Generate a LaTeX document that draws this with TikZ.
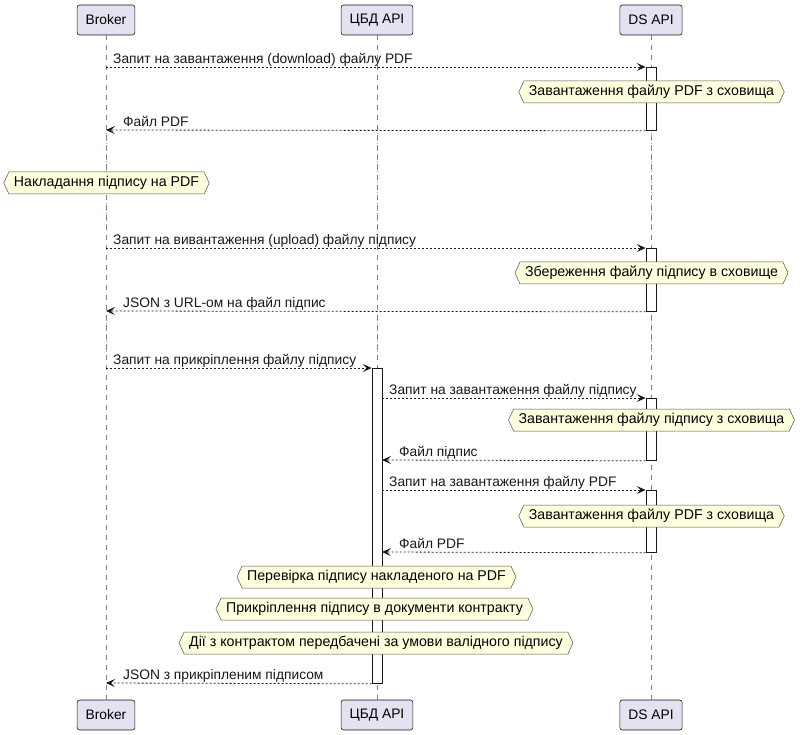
\documentclass[tikz,border=0pt]{standalone}
\usepackage{fontspec}
\setmainfont{Liberation Sans}
\usetikzlibrary{arrows.meta,shapes.symbols}
\definecolor{partfill}{HTML}{E2E2F0}
\definecolor{notefill}{HTML}{FEFFDD}
\definecolor{ink}{HTML}{181818}
\definecolor{delaycol}{HTML}{C98A9A}
\begin{document}
\begin{tikzpicture}[x=1pt,y=-1pt,font=\fontsize{13.8}{16}\selectfont,
  part/.style={draw=ink,fill=partfill,rounded corners=2.5pt,minimum height=30pt,inner xsep=8.5pt,line width=0.6pt},
  act/.style={draw=ink,fill=white,line width=0.8pt,minimum width=10pt,inner sep=0pt,anchor=north},
  note/.style={signal,signal to=west and east,signal pointer angle=130,draw=ink!75,fill=notefill,minimum height=22pt,inner xsep=5pt,inner ysep=0pt,line width=0.5pt,font=\fontsize{14.2}{16}\selectfont},
  msg/.style={ink,line width=0.8pt,dash pattern=on 2pt off 2pt,-{Stealth[length=9pt,width=8pt,inset=4pt]}},
  lbl/.style={anchor=base west,inner sep=0pt,text=ink},
  life/.style={ink!55,line width=0.6pt,dash pattern=on 5pt off 5pt},
  delayline/.style={delaycol,line width=0.7pt,dash pattern=on 1pt off 2.5pt}]
\useasboundingbox (0,0) rectangle (803,735);
% participants
\node[part] (b1) at (106,20) {Broker};
\node[part] (c1) at (377,20) {ЦБД API};
\node[part] (d1) at (651,20) {DS API};
\node[part] (b2) at (106,715) {Broker};
\node[part] (c2) at (377,715) {ЦБД API};
\node[part] (d2) at (651,715) {DS API};
% delay segments
\foreach \x/\n in {106/b,377/c,651/d}{
  \coordinate (\n da) at (\x,133); \coordinate (\n db) at (\x,228);
  \coordinate (\n dc) at (\x,316); \coordinate (\n dd) at (\x,352);
  \draw[delayline] (\n da) -- (\n db);
  \draw[delayline] (\n dc) -- (\n dd);
}
% lifelines
\draw[life] (b1.south) -- (b2.north);
\draw[life] (c1.south) -- (c2.north);
\draw[life] (d1.south) -- (d2.north);
% activations
\node[act,minimum height=63pt] (a1) at (651,67) {};
\node[act,minimum height=63pt] (a2) at (651,248) {};
\node[act,minimum height=315pt] (a3) at (377,368) {};
\node[act,minimum height=62pt] (a4) at (651,398) {};
\node[act,minimum height=62pt] (a5) at (651,490) {};
% coordinates on lifelines
\coordinate (p1) at (106,67);
\coordinate (p2) at (106,130);
\coordinate (p3) at (106,248);
\coordinate (p4) at (106,311);
\coordinate (p5) at (106,368);
\coordinate (p6) at (382,398);
\coordinate (p7) at (382,460);
\coordinate (p8) at (382,490);
\coordinate (p9) at (382,552);
\coordinate (p10) at (106,683);
% messages
\draw[msg] (p1) -- (a1.north west);
\node[lbl] (l1) at (113,63.5) {Запит на завантаження (download) файлу PDF};
\draw[msg] (a1.south west) -- (p2);
\node[lbl] (l2) at (123,126.5) {Файл PDF};
\draw[msg] (p3) -- (a2.north west);
\node[lbl] (l3) at (113,244.5) {Запит на вивантаження (upload) файлу підпису};
\draw[msg] (a2.south west) -- (p4);
\node[lbl] (l4) at (123,307.5) {JSON з URL-ом на файл підпис};
\draw[msg] (p5) -- (a3.north west);
\node[lbl] (l5) at (113,364.5) {Запит на прикріплення файлу підпису};
\draw[msg] (p6) -- (a4.north west);
\node[lbl] (l6) at (389,394.5) {Запит на завантаження файлу підпису};
\draw[msg] (a4.south west) -- (p7);
\node[lbl] (l7) at (399,456.5) {Файл підпис};
\draw[msg] (p8) -- (a5.north west);
\node[lbl] (l8) at (389,486.5) {Запит на завантаження файлу PDF};
\draw[msg] (a5.south west) -- (p9);
\node[lbl] (l9) at (399,548.5) {Файл PDF};
\draw[msg] (a3.south west) -- (p10);
\node[lbl] (l10) at (123,679.5) {JSON з прикріпленим підписом};
% notes
\node[note] (n1) at (651.5,92) {Завантаження файлу PDF з сховища};
\node[note] (n2) at (106.5,183) {Накладання підпису на PDF};
\node[note] (n3) at (651.5,273) {Збереження файлу підпису в сховище};
\node[note] (n4) at (651.5,420) {Завантаження файлу підпису з сховища};
\node[note] (n5) at (651.5,516) {Завантаження файлу PDF з сховища};
\node[note] (n6) at (376.5,577) {Перевірка підпису накладеного на PDF};
\node[note] (n7) at (374.5,609) {Прикріплення підпису в документи контракту};
\node[note] (n8) at (376,643) {Дії з контрактом передбачені за умови валідного підпису};
\end{tikzpicture}
\end{document}
